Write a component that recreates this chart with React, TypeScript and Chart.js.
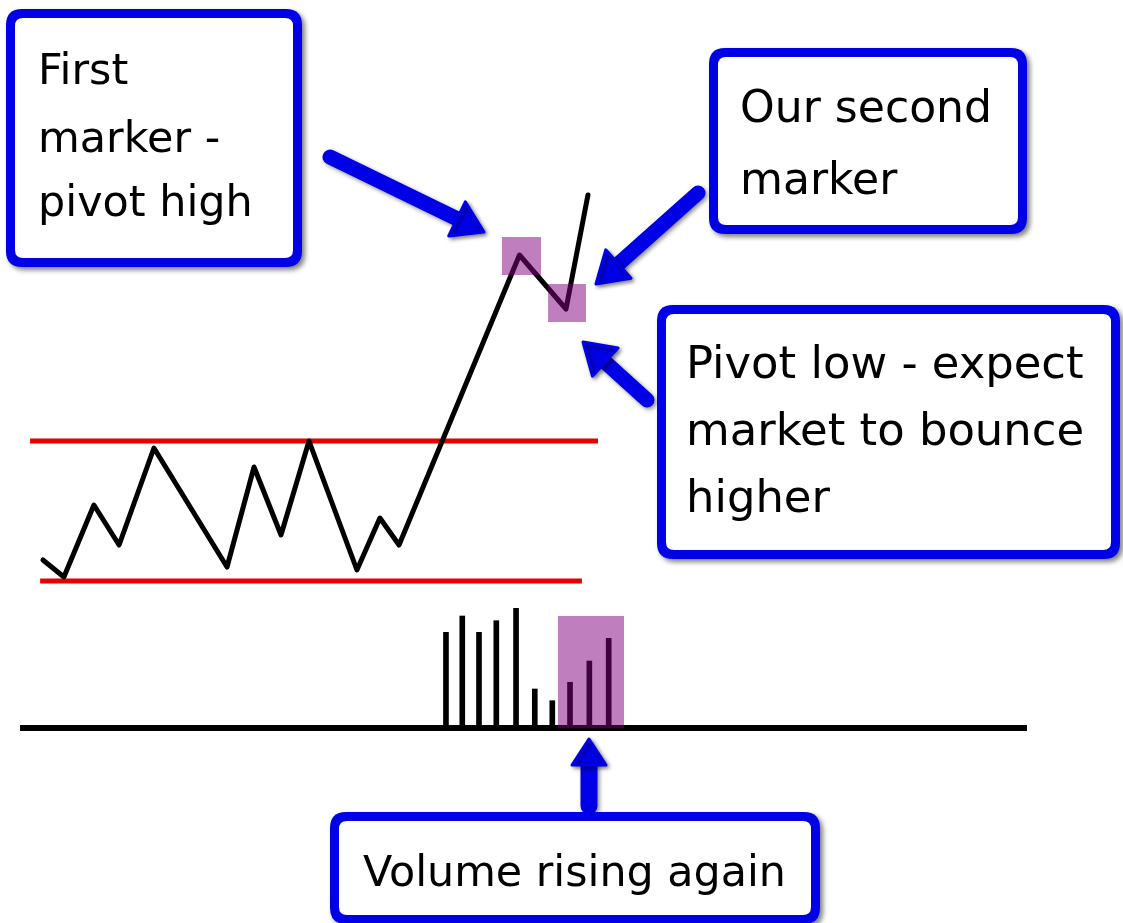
import React, { useEffect, useRef } from 'react';
import { Chart, registerables } from 'chart.js';

Chart.register(...registerables);

// ---- data (abstract units: time sessions, price, volume) ----
const priceTimes = [1.14, 2.18, 3.67, 4.92, 6.65, 10.28, 11.62, 12.96, 14.35, 16.73, 17.87, 18.82, 24.8, 27.11, 28.2];
const priceValues = [88.1, 86.4, 93.6, 89.6, 99.3, 87.4, 97.4, 90.6, 100.0, 87.1, 92.3, 89.6, 118.6, 113.2, 124.6];

const resistanceLevel = 100;
const resistanceSpan = [0.5, 28.7];
const supportLevel = 86;
const supportSpan = [1.0, 27.9];

const volumeTimes = [21.15, 21.96, 22.79, 23.65, 24.63, 25.56, 26.43, 27.31, 28.27, 29.23];
const volumeValues = [957, 1120, 957, 1073, 1197, 390, 273, 457, 670, 897];

const timeRange = [0, 50];
const priceRange = [52, 144];
const volumeRange = [-1930, 7270];

// highlighted regions (time span, value span)
const pivotHighZone = [23.93, 25.87, 116.6, 120.4];
const pivotLowZone = [26.22, 28.1, 111.9, 115.7];
const volumeZone = [26.71, 29.99, 0, 1120];

// callout texts
const noteFirst = ['First', 'marker -', 'pivot high'];
const noteSecond = ['Our second', 'marker'];
const notePivotLow = ['Pivot low - expect', 'market to bounce', 'higher'];
const noteVolume = ['Volume rising again'];

const BLUE = '#0000e6';
const FONT = '"DejaVu Sans", sans-serif';

type Box = { x: number; y: number; w: number; h: number; lines: string[]; tx: number; base: number[]; fitW: number };

const boxes: Box[] = [
  { x: 6, y: 9, w: 296, h: 258, lines: noteFirst, tx: 38, base: [84, 152, 216], fitW: 215 },
  { x: 709, y: 48, w: 318, h: 186, lines: noteSecond, tx: 740, base: [122, 194], fitW: 252 },
  { x: 657, y: 305, w: 463, h: 254, lines: notePivotLow, tx: 686, base: [378, 445, 512], fitW: 398 },
  { x: 330, y: 812, w: 490, h: 112, lines: noteVolume, tx: 363, base: [886], fitW: 423 },
];

type Arrow = { x1: number; y1: number; x2: number; y2: number; sw: number; hw: number; hl: number };
const arrows: Arrow[] = [
  { x1: 330, y1: 157, x2: 484, y2: 232, sw: 15, hw: 38, hl: 30 },
  { x1: 698, y1: 193, x2: 596, y2: 284, sw: 15, hw: 38, hl: 30 },
  { x1: 647, y1: 400, x2: 583, y2: 342, sw: 15, hw: 38, hl: 30 },
  { x1: 589, y1: 806, x2: 589, y2: 739, sw: 17, hw: 34, hl: 26 },
];

function roundRectPath(ctx: CanvasRenderingContext2D, x: number, y: number, w: number, h: number, r: number) {
  ctx.beginPath();
  ctx.moveTo(x + r, y);
  ctx.lineTo(x + w - r, y);
  ctx.quadraticCurveTo(x + w, y, x + w, y + r);
  ctx.lineTo(x + w, y + h - r);
  ctx.quadraticCurveTo(x + w, y + h, x + w - r, y + h);
  ctx.lineTo(x + r, y + h);
  ctx.quadraticCurveTo(x, y + h, x, y + h - r);
  ctx.lineTo(x, y + r);
  ctx.quadraticCurveTo(x, y, x + r, y);
  ctx.closePath();
}

const zonePlugin = {
  id: 'zones',
  afterDatasetsDraw(chart: any) {
    const { ctx, scales } = chart;
    const x = scales.x;
    const draw = (z: number[], yScale: any) => {
      const l = x.getPixelForValue(z[0]);
      const r = x.getPixelForValue(z[1]);
      const t = yScale.getPixelForValue(z[3]);
      const b = yScale.getPixelForValue(z[2]);
      ctx.save();
      ctx.fillStyle = 'rgba(128,0,128,0.5)';
      ctx.fillRect(l, t, r - l, b - t);
      ctx.restore();
    };
    draw(pivotHighZone, scales.y);
    draw(pivotLowZone, scales.y);
    draw(volumeZone, scales.yV);
  },
};

const calloutPlugin = {
  id: 'callouts',
  afterDraw(chart: any) {
    const ctx: CanvasRenderingContext2D = chart.ctx;
    // arrows
    for (const a of arrows) {
      const dx = a.x2 - a.x1;
      const dy = a.y2 - a.y1;
      const len = Math.hypot(dx, dy);
      const ux = dx / len;
      const uy = dy / len;
      const px = -uy;
      const py = ux;
      const bx = a.x2 - ux * a.hl;
      const by = a.y2 - uy * a.hl;
      ctx.save();
      ctx.shadowColor = 'rgba(0,0,0,0.45)';
      ctx.shadowBlur = 4;
      ctx.shadowOffsetX = 2;
      ctx.shadowOffsetY = 2;
      ctx.strokeStyle = BLUE;
      ctx.fillStyle = BLUE;
      ctx.lineWidth = a.sw;
      ctx.lineCap = 'round';
      ctx.lineJoin = 'round';
      ctx.beginPath();
      ctx.moveTo(a.x1, a.y1);
      ctx.lineTo(bx + ux * 4, by + uy * 4);
      ctx.stroke();
      ctx.lineWidth = 3;
      ctx.beginPath();
      ctx.moveTo(a.x2, a.y2);
      ctx.lineTo(bx + px * a.hw / 2, by + py * a.hw / 2);
      ctx.lineTo(bx - px * a.hw / 2, by - py * a.hw / 2);
      ctx.closePath();
      ctx.fill();
      ctx.stroke();
      ctx.restore();
    }
    // boxes
    for (const b of boxes) {
      ctx.save();
      ctx.shadowColor = 'rgba(0,0,0,0.5)';
      ctx.shadowBlur = 5;
      ctx.shadowOffsetX = 3;
      ctx.shadowOffsetY = 3;
      ctx.fillStyle = BLUE;
      roundRectPath(ctx, b.x, b.y, b.w, b.h, 16);
      ctx.fill();
      ctx.restore();
      ctx.save();
      ctx.fillStyle = '#ffffff';
      roundRectPath(ctx, b.x + 9, b.y + 9, b.w - 18, b.h - 18, 8);
      ctx.fill();
      // fit font to width of the longest line
      ctx.font = `40px ${FONT}`;
      let maxW = 0;
      for (const ln of b.lines) maxW = Math.max(maxW, ctx.measureText(ln).width);
      const size = (40 * b.fitW) / maxW;
      ctx.font = `${size.toFixed(1)}px ${FONT}`;
      ctx.fillStyle = '#000000';
      ctx.textBaseline = 'alphabetic';
      ctx.textAlign = 'left';
      b.lines.forEach((ln, i) => ctx.fillText(ln, b.tx, b.base[i]));
      ctx.restore();
    }
  },
};

export default function App() {
  const ref = useRef<HTMLCanvasElement | null>(null);

  useEffect(() => {
    if (!ref.current) return;
    const chart = new Chart(ref.current, {
      type: 'bar',
      data: {
        datasets: [
          {
            type: 'line',
            label: 'Resistance',
            data: resistanceSpan.map((t) => ({ x: t, y: resistanceLevel })),
            borderColor: '#e60000',
            borderWidth: 5,
            pointRadius: 0,
            yAxisID: 'y',
            order: 3,
          },
          {
            type: 'line',
            label: 'Support',
            data: supportSpan.map((t) => ({ x: t, y: supportLevel })),
            borderColor: '#e60000',
            borderWidth: 5,
            pointRadius: 0,
            yAxisID: 'y',
            order: 3,
          },
          {
            type: 'line',
            label: 'Price',
            data: priceTimes.map((t, i) => ({ x: t, y: priceValues[i] })),
            borderColor: '#000000',
            borderWidth: 5,
            pointRadius: 0,
            tension: 0,
            borderJoinStyle: 'round',
            borderCapStyle: 'round',
            yAxisID: 'y',
            order: 1,
          },
          {
            type: 'line',
            label: 'Baseline',
            data: timeRange.map((t) => ({ x: t, y: 0 })),
            borderColor: '#000000',
            borderWidth: 6,
            pointRadius: 0,
            yAxisID: 'yV',
            order: 2,
          },
          {
            type: 'bar',
            label: 'Volume',
            data: volumeTimes.map((t, i) => ({ x: t, y: volumeValues[i] })),
            backgroundColor: '#000000',
            barThickness: 5,
            yAxisID: 'yV',
            order: 0,
          },
        ] as any,
      },
      options: {
        animation: false,
        responsive: false,
        maintainAspectRatio: false,
        layout: { padding: { left: 20, right: 96, top: 1, bottom: 2 } },
        plugins: { legend: { display: false }, tooltip: { enabled: false } },
        scales: {
          x: { type: 'linear', min: timeRange[0], max: timeRange[1], offset: false, display: false },
          y: { type: 'linear', min: priceRange[0], max: priceRange[1], display: false },
          yV: { type: 'linear', min: volumeRange[0], max: volumeRange[1], display: false },
        },
      } as any,
      plugins: [zonePlugin, calloutPlugin],
    });
    return () => chart.destroy();
  }, []);

  return (
    <div style={{ position: 'fixed', left: 0, top: 0, width: 1123, height: 923, background: '#ffffff' }}>
      <canvas ref={ref} width={1123} height={923} style={{ display: 'block' }} />
    </div>
  );
}
